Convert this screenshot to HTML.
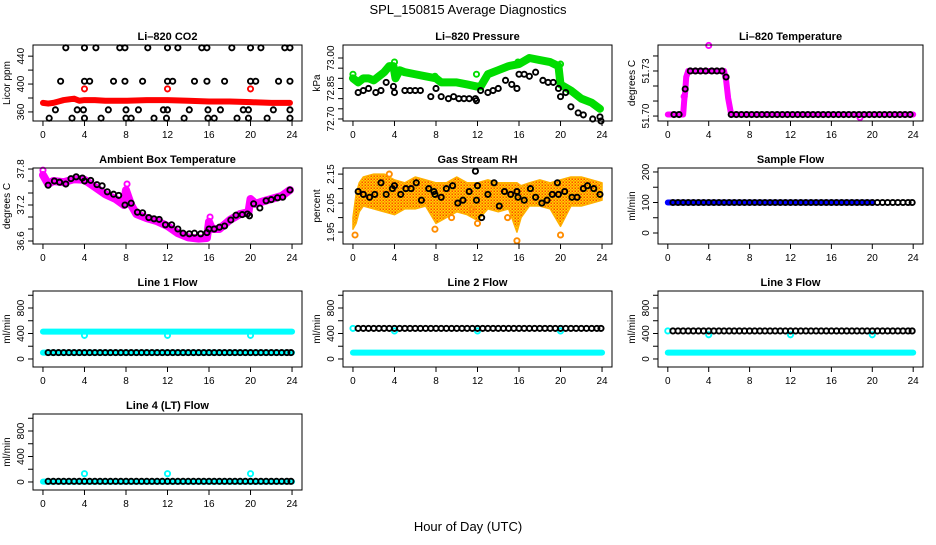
<!DOCTYPE html>
<html><head><meta charset="utf-8"><style>
html,body{margin:0;padding:0;background:#fff}
svg text{font-family:"Liberation Sans",sans-serif}
</style></head><body>
<svg id="chart" width="936" height="540" viewBox="0 0 936 540" xmlns="http://www.w3.org/2000/svg">
<rect width="936" height="540" fill="#fff"/>
<text x="468" y="14" text-anchor="middle" font-size="13">SPL_150815  Average Diagnostics</text>
<text x="468" y="531" text-anchor="middle" font-size="13">Hour of Day (UTC)</text>
<defs>
<pattern id="rhpat" width="3" height="3" patternUnits="userSpaceOnUse"><rect width="3" height="3" fill="#ffd700"/><rect width="1.5" height="1.5" fill="#ff8c00"/><rect x="1.5" y="1.5" width="1.5" height="1.5" fill="#ff4500"/></pattern>
</defs>
</svg>
<script>
const xTicks = [0,4,8,12,16,20,24];
// CO2
const co2BandHours = [0,0.5,1,1.5,2,2.5,3,3.5,4,5,6,8,10,12,14,16,18,20,22,23,23.8];
const co2BandVals = [373,372,373,375,377,378,379,376,377,377,376,376,377,377,376,375,375,374,373,373,373];
const co2OutHours = [4,12,20];
const co2OutVals = [393,393,393];
const co2BlackHours = [2.2,4,5.1,7.4,7.9,10.1,12,13,15.3,15.8,18.2,20,21,23.3,23.8, 1.7,4,4.5,6.8,7.9,9.6,12,12.5,14.6,15.8,17.5,20,20.5,22.7,23.8, 1.2,3.3,3.9,6.3,8,9.2,11.6,12,14.1,15.9,17.1,19.3,19.8,22.2,23.8, 0.6,2.8,4,5.6,8,8.5,10.7,11.9,13.6,15.9,16.5,18.7,19.8,21.6,23.8];
const co2BlackVals = [452,452,452,452,452,452,452,452,452,452,452,452,452,452,452, 404,404,404,404,404,404,404,404,404,404,404,404,404,404,404, 363,363,363,363,363,363,363,363,363,363,363,363,363,363,363, 351,351,351,351,351,351,351,351,351,351,351,351,351,351,351];
// Pressure
const presBandHours = [0,0.5,1,1.5,2,2.5,3,3.5,3.9,4.1,4.5,5,6,7,8,8.5,9,10,11,11.9,12.3,13,14,15,16,17,18,19,19.8,20,21,22,23,23.8];
const presBandVals = [72.90,72.88,72.90,72.90,72.89,72.91,72.93,72.96,72.96,72.90,72.94,72.93,72.92,72.91,72.90,72.88,72.88,72.88,72.87,72.86,72.86,72.92,72.94,72.96,72.97,73.00,72.99,72.98,72.96,72.87,72.84,72.80,72.78,72.75];
const presOutHours = [0,4,7.9,11.9,15.9,20];
const presOutVals = [72.92,72.98,72.91,72.92,72.98,72.97];
const presBlackHours = [0.5,1,1.5,2.2,2.7,3.2,3.9,4,5,5.5,6,6.5,7.5,8,8.5,9.2,9.7,10.2,10.7,11.2,11.8,11.9,12.3,13,13.5,14,14.7,15.3,15.8,16,16.5,17,17.6,18.3,18.8,19.3,19.8,20,20.5,21,21.7,22.2,23.1,23.8,23.9];
const presBlackVals = [72.83,72.84,72.85,72.83,72.84,72.88,72.86,72.83,72.84,72.84,72.84,72.84,72.81,72.85,72.81,72.80,72.81,72.80,72.80,72.80,72.80,72.79,72.84,72.83,72.84,72.85,72.89,72.87,72.85,72.92,72.92,72.91,72.93,72.89,72.88,72.88,72.85,72.81,72.83,72.76,72.73,72.72,72.70,72.71,72.69];
// Li-820 Temperature
const tempBandHours = [0,1.5,1.6,1.7,1.8,2,3,4,5,5.5,5.7,5.9,6.2,8,12,16,20,24];
const tempBandVals = [51.701,51.701,51.710,51.716,51.726,51.730,51.730,51.730,51.730,51.730,51.724,51.712,51.701,51.701,51.701,51.701,51.701,51.701];
const tempOutHours = [4,18.8,1.6];
const tempOutVals = [51.747,51.699,51.713];
const tempBlackHours = [0.6,1.1,1.7,2.2,2.7,3.2,3.7,4.3,4.8,5.3,5.7,6.2,6.7,7.2,7.7,8.2,8.7,9.2,9.7,10.2,10.7,11.2,11.7,12.2,12.7,13.2,13.7,14.2,14.7,15.2,15.7,16.2,16.7,17.2,17.7,18.2,18.7,19.2,19.7,20.2,20.7,21.2,21.7,22.2,22.7,23.2,23.7];
const tempBlackVals = [51.701,51.701,51.718,51.730,51.730,51.730,51.730,51.730,51.730,51.730,51.726,51.701,51.701,51.701,51.701,51.701,51.701,51.701,51.701,51.701,51.701,51.701,51.701,51.701,51.701,51.701,51.701,51.701,51.701,51.701,51.701,51.701,51.701,51.701,51.701,51.701,51.701,51.701,51.701,51.701,51.701,51.701,51.701,51.701,51.701,51.701,51.701];
// Ambient
const ambBandHours = [0,0.5,1,2,3,4,5,6,7,7.8,8,8.5,9,10,11,12,13,14,15,15.8,16,16.3,17,18,19,19.8,20,20.5,21,22,23,23.8];
const ambBandVals = [37.70,37.55,37.60,37.58,37.63,37.62,37.50,37.38,37.30,37.20,37.45,37.20,37.05,36.98,36.93,36.85,36.73,36.66,36.64,36.65,36.92,36.80,36.80,36.95,37.05,37.08,37.30,37.22,37.25,37.30,37.35,37.45];
const ambOutHours = [8.1,16.1,0];
const ambOutVals = [37.55,37.00,37.78];
const ambBlackHours = [0.5,1.1,1.6,2.2,2.7,3.2,3.8,4,4.6,5.2,5.7,6.2,6.8,7.3,7.9,8.5,9.1,9.6,10.2,10.7,11.2,11.8,12.4,13,13.5,14.1,14.6,15.2,15.8,16,16.5,17,17.5,18.1,18.6,19.2,19.7,19.9,20.3,20.9,21.5,22,22.6,23.1,23.8];
const ambBlackVals = [37.53,37.60,37.58,37.55,37.64,37.67,37.65,37.60,37.61,37.54,37.52,37.42,37.38,37.36,37.20,37.23,37.08,37.07,36.99,36.97,36.96,36.87,36.87,36.80,36.73,36.72,36.73,36.72,36.74,36.80,36.80,36.83,36.85,36.95,37.03,37.04,37.05,37.02,37.22,37.15,37.27,37.29,37.32,37.33,37.45];
// RH
const rhHours = [0,0.3,0.6,1,2,3,4,5,6,7,8,9,10,11,12,13,14,15,15.8,16.2,17,18,19,20,21,22,23,24];
const rhUpper = [2.00,2.08,2.12,2.14,2.15,2.15,2.13,2.12,2.14,2.13,2.12,2.12,2.14,2.12,2.12,2.13,2.12,2.12,2.12,2.11,2.12,2.13,2.12,2.13,2.14,2.14,2.13,2.12];
const rhLower = [1.96,1.98,2.02,2.04,2.03,2.02,2.01,2.03,2.03,2.04,1.98,2.00,2.02,2.01,1.99,2.03,2.02,2.03,1.95,2.00,2.04,2.04,2.03,1.97,2.04,2.04,2.05,2.06];
const rhOutHours = [0.2,7.9,12,15.8,20,11.5,9.5,3.5,14.9];
const rhOutVals = [1.94,1.96,1.98,1.92,1.94,2.03,2.00,2.15,2.00];
const rhBlackHours = [0.5,1,1.6,2.1,2.7,3.2,3.8,4,4.6,5.1,5.6,6.1,6.6,7.3,7.8,7.9,8.5,9,9.6,10.1,10.6,11.2,11.8,11.9,12,12.4,13,13.6,14.1,14.6,15.2,15.8,15.9,16.5,17.1,17.6,18.2,18.7,19.2,19.7,19.8,20.4,21.1,21.6,22.2,22.6,23.2,23.8];
const rhBlackVals = [2.09,2.08,2.07,2.08,2.12,2.08,2.10,2.11,2.08,2.10,2.10,2.12,2.06,2.10,2.09,2.08,2.07,2.10,2.11,2.05,2.06,2.09,2.16,2.06,2.11,2.00,2.08,2.12,2.04,2.09,2.08,2.09,2.07,2.06,2.10,2.07,2.05,2.06,2.08,2.12,2.08,2.09,2.07,2.07,2.10,2.11,2.10,2.08];
// Flows
const flowHours = [0.5,1,1.5,2,2.5,3,3.5,4,4.5,5,5.5,6,6.5,7,7.5,8,8.5,9,9.5,10,10.5,11,11.5,12,12.5,13,13.5,14,14.5,15,15.5,16,16.5,17,17.5,18,18.5,19,19.5,20,20.5,21,21.5,22,22.5,23,23.5,23.9];
const sampleBlue = [100,100];
const sampleBlueHours = [0,20];
const sampleBlack = [100,100,100,100,100,100,100,100,100,100,100,100,100,100,100,100,100,100,100,100,100,100,100,100,100,100,100,100,100,100,100,100,100,100,100,100,100,100,100,100,100,100,100,100,100,100,100,100];
const bandHours = [0,24];
const line1Cyan = [430,430];
const line1CyanLow = [100,100];
const line1Black = [100,100,100,100,100,100,100,100,100,100,100,100,100,100,100,100,100,100,100,100,100,100,100,100,100,100,100,100,100,100,100,100,100,100,100,100,100,100,100,100,100,100,100,100,100,100,100,100];
const line2Cyan = [100,100];
const line2Black = [480,480,480,480,480,480,480,480,480,480,480,480,480,480,480,480,480,480,480,480,480,480,480,480,480,480,480,480,480,480,480,480,480,480,480,480,480,480,480,480,480,480,480,480,480,480,480,480];
const line3Cyan = [100,100];
const line3Black = [440,440,440,440,440,440,440,440,440,440,440,440,440,440,440,440,440,440,440,440,440,440,440,440,440,440,440,440,440,440,440,440,440,440,440,440,440,440,440,440,440,440,440,440,440,440,440,440];
const line4Cyan = [5,5];
const line4Black = [10,10,10,10,10,10,10,10,10,10,10,10,10,10,10,10,10,10,10,10,10,10,10,10,10,10,10,10,10,10,10,10,10,10,10,10,10,10,10,10,10,10,10,10,10,10,10,10];
const outHours = [4,12,20];
const line1Out = [370,370,370];
const line2Out = [440,440,440];
const line3Out = [380,380,380];
const line4Out = [130,130,130];

const svg = document.getElementById('chart');
const NS = 'http://www.w3.org/2000/svg';
const cols = [[33,302],[343,612],[658,923]];
const rows = [[45,121],[168,244],[291,367],[414,490]];
function mk(tag, attrs, parent){const e=document.createElementNS(NS,tag);for(const k in attrs)e.setAttribute(k,attrs[k]);(parent||svg).appendChild(e);return e;}

function panel(name,title,ytitle,c,r,yLo,yHi,yTicks,yLabels){
  const g = mk('g',{});
  
  
  const [x0,x1]=cols[c],[y0,y1]=rows[r];
  const xs = h => x0 + (h+0.96)/25.92*(x1-x0);
  const ys = v => y1 - (v-yLo)/(yHi-yLo)*(y1-y0);
  const data = mk('g',{'clip-path':'url(#clip-'+name+')'},g);
  const cp = mk('clipPath',{id:'clip-'+name},g);
  mk('rect',{x:x0,y:y0-4,width:x1-x0,height:y1-y0+8},cp);
  const box = mk('rect',{x:x0,y:y0,width:x1-x0,height:y1-y0,fill:'none',stroke:'#000','stroke-width':1},g);
  
  
  const t = mk('text',{x:(x0+x1)/2,y:y0-5,'text-anchor':'middle','font-size':11,'font-weight':'bold'},g);
  t.textContent = title;
  
  
  const yt = mk('text',{x:0,y:0,'text-anchor':'middle','font-size':10,transform:`translate(${x0-23},${(y0+y1)/2}) rotate(-90)`},g);
  yt.textContent = ytitle;
  
  
  xTicks.forEach(h=>{
    mk('line',{x1:xs(h),x2:xs(h),y1:y1,y2:y1+5,stroke:'#000'},g);
    const l = mk('text',{x:xs(h),y:y1+17,'text-anchor':'middle','font-size':10},g);
    l.textContent = h;
    
    
  });
  yTicks.forEach(v=>{ mk('line',{x1:x0-5,x2:x0,y1:ys(v),y2:ys(v),stroke:'#000'},g); });
  yLabels.forEach(v=>{
    const l = mk('text',{x:0,y:0,'text-anchor':'middle','font-size':10,transform:`translate(${x0-9},${ys(v)}) rotate(-90)`},g);
    l.textContent = v;
    
    
  });
  return {g:data,xs,ys};
}
function band(p,hours,vals,color,w,nm){
  const pl = mk('polyline',{points:hours.map((h,i)=>p.xs(h)+','+p.ys(vals[i])).join(' '),fill:'none',stroke:color,'stroke-width':w,'stroke-linejoin':'round','stroke-linecap':'round'},p.g);
  
  
}
function pts(p,hours,vals,color,nm){
  const g = mk('g',{},p.g);
  
  
  hours.forEach((h,i)=>{
    const c = mk('circle',{cx:p.xs(h),cy:p.ys(vals[i]),r:2.6,fill:'none',stroke:color,'stroke-width':1.9},g);
    
    
  });
}

let p;
p = panel('co2-panel','Li\u2013820 CO2','Licor ppm',0,0,347,456,[360,380,400,420,440],[360,400,440]);
band(p,co2BandHours,co2BandVals,'#ff0000',6,'co2-band');
pts(p,co2OutHours,co2OutVals,'#ff0000','co2-outliers');
pts(p,co2BlackHours,co2BlackVals,'#000','co2-averages');

p = panel('pressure-panel','Li\u2013820 Pressure','kPa',1,0,72.69,73.064,[72.70,72.75,72.80,72.85,72.90,72.95,73.00],['72.70','72.85','73.00']);
band(p,presBandHours,presBandVals,'#00dd00',8,'pressure-band');
pts(p,presOutHours,presOutVals,'#00dd00','pressure-outliers');
pts(p,presBlackHours,presBlackVals,'#000','pressure-averages');

p = panel('temp-panel','Li\u2013820 Temperature','degrees C',2,0,51.6967,51.7473,[51.70,51.71,51.72,51.73,51.74],['51.70','51.73']);
band(p,tempBandHours,tempBandVals,'#ff00ff',6,'temp-band');
pts(p,tempOutHours,tempOutVals,'#ff00ff','temp-outliers');
pts(p,tempBlackHours,tempBlackVals,'#000','temp-averages');

p = panel('ambient-panel','Ambient Box Temperature','degrees C',0,1,36.55,37.817,[36.6,36.8,37.0,37.2,37.4,37.6,37.8],['36.6','37.2','37.8']);
band(p,ambBandHours,ambBandVals,'#ff00ff',8,'ambient-band');
pts(p,ambOutHours,ambOutVals,'#ff00ff','ambient-outliers');
pts(p,ambBlackHours,ambBlackVals,'#000','ambient-averages');

p = panel('rh-panel','Gas Stream RH','percent',1,1,1.909,2.171,[1.95,2.00,2.05,2.10,2.15],['1.95','2.05','2.15']);
{
  const up = rhHours.map((h,i)=>p.xs(h)+','+p.ys(rhUpper[i]));
  const lo = rhHours.map((h,i)=>p.xs(h)+','+p.ys(rhLower[i])).reverse();
  const poly = mk('polygon',{points:up.concat(lo).join(' '),fill:'url(#rhpat)',stroke:'#ffb000','stroke-width':1.5,'stroke-linejoin':'round'},p.g);
  
  
}
pts(p,rhOutHours,rhOutVals,'#ff8c00','rh-outliers');
pts(p,rhBlackHours,rhBlackVals,'#000','rh-averages');

p = panel('sample-flow-panel','Sample Flow','ml/min',2,1,-36,213,[0,50,100,150,200],[0,100,200]);
band(p,sampleBlueHours,sampleBlue,'#0000ff',6,'sample-flow-band');
pts(p,flowHours,sampleBlack,'#000','sample-flow-averages');

p = panel('line1-panel','Line 1 Flow','ml/min',0,2,-126,1067,[0,200,400,600,800,1000],[0,400,800]);
band(p,bandHours,line1Cyan,'#00ffff',6,'line1-band');
band(p,bandHours,line1CyanLow,'#00ffff',6,'line1-low-band');
pts(p,outHours,line1Out,'#00ffff','line1-outliers');
pts(p,flowHours,line1Black,'#000','line1-averages');

p = panel('line2-panel','Line 2 Flow','ml/min',1,2,-126,1067,[0,200,400,600,800,1000],[0,400,800]);
band(p,bandHours,line2Cyan,'#00ffff',6,'line2-band');
pts(p,outHours,line2Out,'#00ffff','line2-outliers');
pts(p,[0],[480],'#00ffff','line2-start');
pts(p,flowHours,line2Black,'#000','line2-averages');

p = panel('line3-panel','Line 3 Flow','ml/min',2,2,-126,1067,[0,200,400,600,800,1000],[0,400,800]);
band(p,bandHours,line3Cyan,'#00ffff',6,'line3-band');
pts(p,outHours,line3Out,'#00ffff','line3-outliers');
pts(p,[0],[440],'#00ffff','line3-start');
pts(p,flowHours,line3Black,'#000','line3-averages');

p = panel('line4-panel','Line 4 (LT) Flow','ml/min',0,3,-126,1067,[0,200,400,600,800,1000],[0,400,800]);
band(p,bandHours,line4Cyan,'#00ffff',6,'line4-band');
pts(p,outHours,line4Out,'#00ffff','line4-outliers');
pts(p,flowHours,line4Black,'#000','line4-averages');
</script>
</body></html>
